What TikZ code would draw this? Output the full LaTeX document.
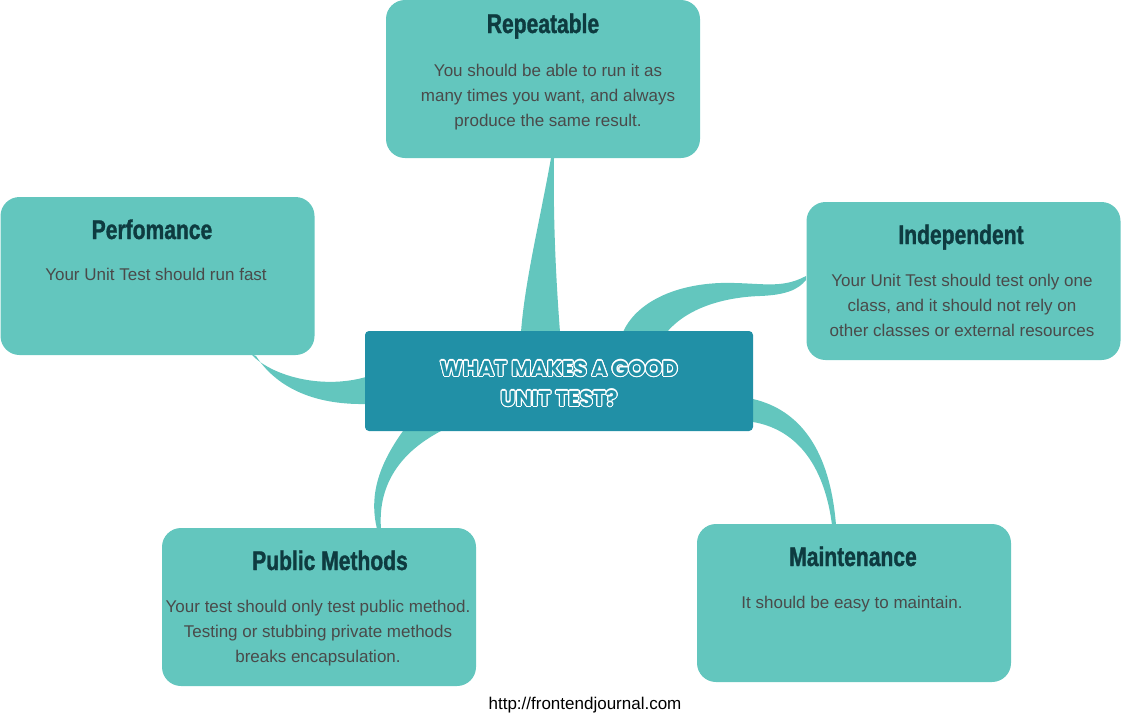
\documentclass[tikz,border=0pt]{standalone}
\usepackage{fontspec}
\setmainfont{Liberation Sans}
\newfontfamily\titlefont[FakeStretch=0.78,FakeBold=1.2]{Liberation Sans}
\newfontfamily\headfont{Poppins}
\usepackage{contour}
\contourlength{1.1pt}
\definecolor{boxfill}{HTML}{63C6BE}
\definecolor{centerfill}{HTML}{2190A6}
\definecolor{titlecol}{HTML}{0E3B40}
\definecolor{bodycol}{HTML}{4A4A4A}
\tikzset{
  box/.style={fill=boxfill, rounded corners=19pt, minimum width=314pt, minimum height=158pt, inner sep=0pt},
  centerbox/.style={fill=centerfill, rounded corners=4pt, minimum width=388pt, minimum height=100pt, inner sep=0pt},
  ttl/.style={font=\titlefont\bfseries\fontsize{27}{30}\selectfont, text=titlecol, inner sep=0pt, anchor=base},
  body/.style={font=\fontsize{17}{25}\selectfont, text=bodycol, align=center, inner sep=0pt, anchor=base},
  link/.style={fill=boxfill, draw=none},
}
\begin{document}
\begin{tikzpicture}[x=1pt,y=-1pt]
\useasboundingbox (0,0) rectangle (1121,716);
% connectors
\fill[link] (551,158) .. controls (540,220) and (525,280) .. (521,332) -- (560,332) .. controls (556,280) and (553,220) .. (554,158) -- cycle;
\fill[link] (806,276) .. controls (780,290) and (760,282) .. (720,283) .. controls (670,285) and (635,305) .. (623,332) -- (667,332) .. controls (690,305) and (730,297) .. (760,296) .. controls (785,295) and (798,290) .. (806,280) -- cycle;
\fill[link] (251,354) .. controls (270,375) and (320,390) .. (366,377) -- (366,404) .. controls (310,405) and (275,385) .. (256,356) -- cycle;
\fill[link] (403,431) .. controls (375,470) and (370,500) .. (377,529) -- (381,529) .. controls (378,490) and (395,455) .. (441,431) -- cycle;
\fill[link] (753,399) .. controls (800,410) and (830,450) .. (836,525) -- (832,525) .. controls (825,470) and (800,430) .. (753,422) -- cycle;
% boxes
\node[box] (rep) at (543,79) {};
\node[box] (perf) at (157.5,276) {};
\node[box] (ind) at (963.5,281) {};
\node[box] (pub) at (319,607) {};
\node[box] (main) at (854,603) {};
\node[centerbox] (center) at (559,381) {};
% titles
\node[ttl] (repT) at (543,33) {Repeatable};
\node[ttl] (perfT) at (152,239) {Perfomance};
\node[ttl] (indT) at (961,244) {Independent};
\node[ttl] (pubT) at (330,570) {Public Methods};
\node[ttl] (mainT) at (853,566) {Maintenance};
% bodies (anchor base = last line baseline)
\node[body] (repB) at (548,126) {You should be able to run it as\\many times you want, and always\\produce the same result.};
\node[body] (perfB) at (156,280) {Your Unit Test should run fast};
\node[body] (indB) at (962,336) {Your Unit Test should test only one\\class, and it should not rely on\\other classes or external resources};
\node[body] (pubB) at (318,662) {Your test should only test public method.\\Testing or stubbing private methods\\breaks encapsulation.};
\node[body] (mainB) at (852,608) {It should be easy to maintain.};
% center text
\node[font=\headfont\bfseries\fontsize{21.5}{30}\selectfont, text=centerfill, align=center, inner sep=0pt] (centerT) at (559,384) {\contour{white}{WHAT MAKES A GOOD}\\\contour{white}{UNIT TEST?}};
% footer
\node[font=\fontsize{17}{18}\selectfont, text=black, inner sep=0pt, anchor=base] (foot) at (585,709) {http://frontendjournal.com};
\end{tikzpicture}
\end{document}
